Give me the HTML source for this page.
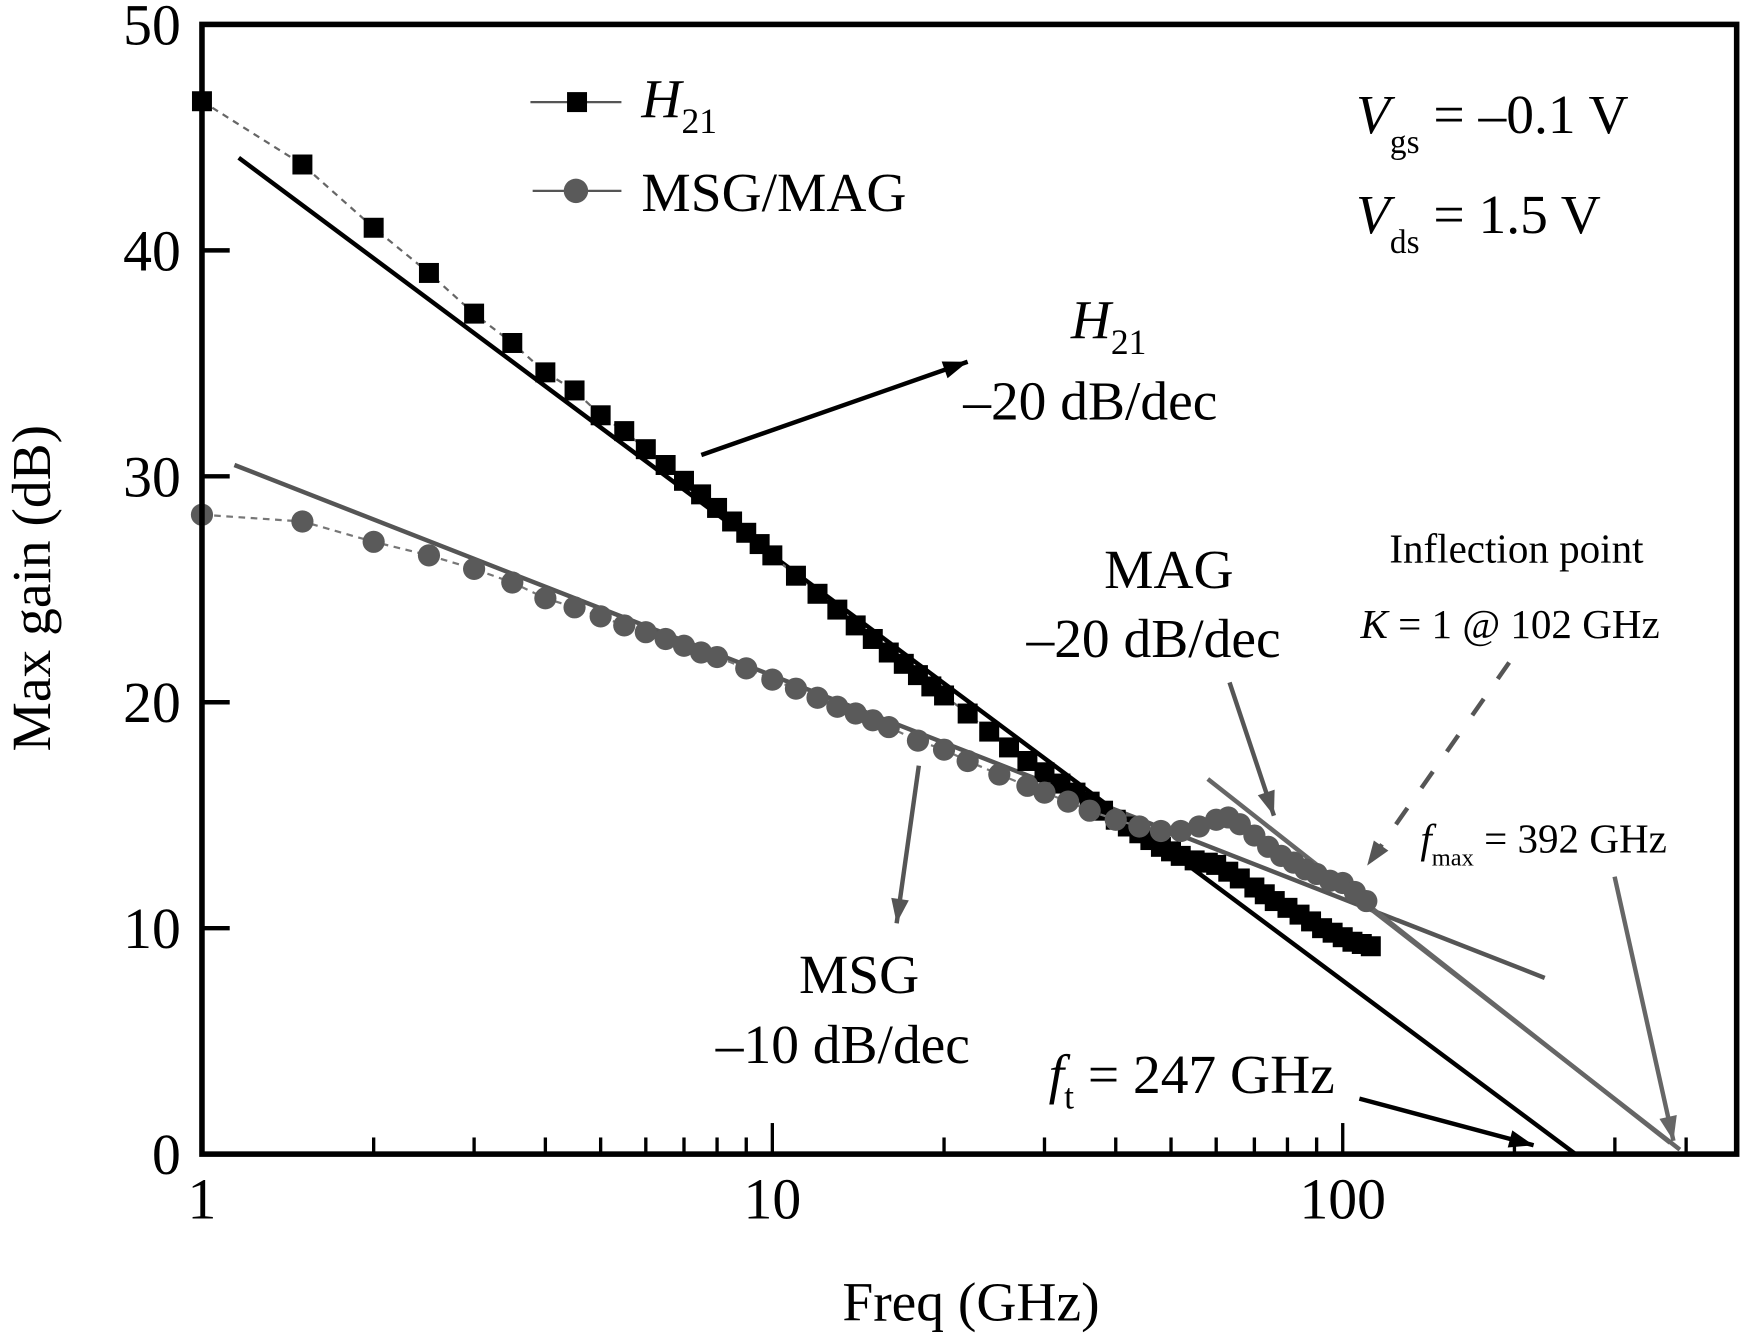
<!DOCTYPE html>
<html><head><meta charset="utf-8"><style>
html,body{margin:0;padding:0;background:#fff;}
svg{display:block;}
text{font-family:"Liberation Serif",serif;fill:#000;}
</style></head><body>
<svg id="chart" width="1740" height="1335" viewBox="0 0 1568 1203" preserveAspectRatio="none" xmlns="http://www.w3.org/2000/svg">
<g id="plot"></g>
<g id="annot">
  <text x="578" y="106" font-size="50" font-style="italic">H<tspan font-size="32" font-style="normal" dy="14">21</tspan></text>
  <text x="578" y="190" font-size="50">MSG/MAG</text>
  <text x="1222" y="120" font-size="50"><tspan font-style="italic">V</tspan><tspan font-size="30" dy="18">gs</tspan><tspan dy="-18"> = –0.1 V</tspan></text>
  <text x="1222" y="210" font-size="50"><tspan font-style="italic">V</tspan><tspan font-size="30" dy="18">ds</tspan><tspan dy="-18"> = 1.5 V</tspan></text>
  <text x="965" y="305" font-size="50" font-style="italic">H<tspan font-size="32" font-style="normal" dy="14">21</tspan></text>
  <text x="868" y="378" font-size="50">–20 dB/dec</text>
  <text x="995" y="530" font-size="50">MAG</text>
  <text x="925" y="592" font-size="50">–20 dB/dec</text>
  <text x="1252" y="507" font-size="37">Inflection point</text>
  <text x="1226" y="575" font-size="37"><tspan font-style="italic">K</tspan> = 1 @ 102 GHz</text>
  <text x="1280" y="768" font-size="37"><tspan font-style="italic">f</tspan><tspan font-size="22" dy="12">max</tspan><tspan dy="-12"> = 392 GHz</tspan></text>
  <text x="720" y="895" font-size="50">MSG</text>
  <text x="645" y="958" font-size="50">–10 dB/dec</text>
  <text x="945" y="985" font-size="50"><tspan font-style="italic">f</tspan><tspan font-size="32" dy="14">t</tspan><tspan dy="-14"> = 247 GHz</tspan></text>
  <text x="875" y="1190" font-size="50" text-anchor="middle">Freq (GHz)</text>
  <text x="0" y="0" font-size="50" text-anchor="middle" transform="translate(45,530) rotate(-90)">Max gain (dB)</text>
</g>
<script>
const h21Freq=[1,1.5,2,2.5,3,3.5,4,4.5,5,5.5,6,6.5,7,7.5,8,8.5,9,9.5,10,11,12,13,14,15,16,17,18,19,20,22,24,26,28,30,32,34,36,38,40,42,44,46,48,50,52,55,58,60,63,66,70,73,76,80,84,88,92,96,100,104,108,112];
const h21Gain=[46.6,43.8,41,39,37.2,35.9,34.6,33.8,32.7,32,31.2,30.5,29.8,29.2,28.6,28,27.5,27,26.5,25.6,24.8,24.1,23.4,22.8,22.2,21.7,21.2,20.7,20.3,19.5,18.7,18,17.4,16.9,16.4,16,15.6,15.2,14.8,14.5,14.2,13.9,13.6,13.4,13.2,13,12.9,12.8,12.5,12.2,11.8,11.5,11.2,10.9,10.6,10.3,10,9.8,9.6,9.4,9.3,9.2];
const magFreq=[1,1.5,2,2.5,3,3.5,4,4.5,5,5.5,6,6.5,7,7.5,8,9,10,11,12,13,14,15,16,18,20,22,25,28,30,33,36,40,44,48,52,56,60,63,66,70,74,78,82,86,90,95,100,105,110];
const magGain=[28.3,28,27.1,26.5,25.9,25.3,24.6,24.2,23.8,23.4,23.1,22.8,22.5,22.2,22,21.5,21,20.6,20.2,19.8,19.5,19.2,18.9,18.3,17.9,17.4,16.8,16.3,16,15.6,15.2,14.8,14.5,14.3,14.3,14.5,14.8,14.9,14.6,14.1,13.6,13.2,12.9,12.6,12.4,12.1,12,11.6,11.2];
const fitLines=[[1.16,44.1,256,0,"#000"],[1.14,30.5,226,7.8,"#555"],[58,16.6,375,0.5,"#666"],[110,11,390,0.2,"#666"]];
const yTicks=[0,10,20,30,40,50];
const xTicks=[1,10,100];
const L=182,R=1565,T=22,B=1040,DEC=514;
const X=f=>L+Math.log10(f)*DEC;
const Y=g=>B-(g/50)*(B-T);
const NS="http://www.w3.org/2000/svg";
const plot=document.getElementById('plot');
function mk(tag,attrs,name){const e=document.createElementNS(NS,tag);for(const k in attrs)e.setAttribute(k,attrs[k]);


plot.appendChild(e);return e;}
// fit lines
fitLines.forEach((l,i)=>{mk('line',{x1:X(l[0]),y1:Y(l[1]),x2:X(l[2]),y2:Y(l[3]),stroke:l[4],'stroke-width':4},'fit-line-'+i);});
// H21 series
mk('polyline',{points:h21Freq.map((f,i)=>X(f)+','+Y(h21Gain[i])).join(' '),fill:'none',stroke:'#666','stroke-width':2,'stroke-dasharray':'6,5'},'h21-line');
h21Freq.forEach((f,i)=>{mk('rect',{x:X(f)-9,y:Y(h21Gain[i])-9,width:18,height:18,fill:'#000'},'h21-point');});
// MAG series
mk('polyline',{points:magFreq.map((f,i)=>X(f)+','+Y(magGain[i])).join(' '),fill:'none',stroke:'#777','stroke-width':2,'stroke-dasharray':'6,5'},'msg-mag-line');
magFreq.forEach((f,i)=>{mk('circle',{cx:X(f),cy:Y(magGain[i]),r:10,fill:'#5a5a5a'},'msg-mag-point');});
// arrows (annotation)
function arrow(x1,y1,x2,y2,c,name,dash){mk('line',{x1,y1,x2,y2,stroke:c,'stroke-width':4,'stroke-dasharray':dash||'none'},name);
const a=Math.atan2(y2-y1,x2-x1),s=22,w=8;
const p=[[x2,y2],[x2-s*Math.cos(a)+w*Math.sin(a),y2-s*Math.sin(a)-w*Math.cos(a)],[x2-s*Math.cos(a)-w*Math.sin(a),y2-s*Math.sin(a)+w*Math.cos(a)]];
mk('polygon',{points:p.map(q=>q.join(',')).join(' '),fill:c},name+'-head');}
arrow(632,410,872,326,'#000','h21-arrow');
arrow(1108,615,1148,735,'#555','mag-arrow');
arrow(1360,597,1232,780,'#555','inflection-arrow','18,22');
arrow(828,690,808,832,'#555','msg-arrow');
arrow(1455,790,1508,1028,'#666','fmax-arrow');
arrow(1225,990,1382,1032,'#000','ft-arrow');
// legend markers
mk('line',{x1:478,y1:92,x2:560,y2:92,stroke:'#555','stroke-width':2},'legend-h21-line');
mk('rect',{x:511,y:83,width:18,height:18,fill:'#000'},'legend-h21-marker');
mk('line',{x1:480,y1:172,x2:560,y2:172,stroke:'#555','stroke-width':2},'legend-msg-line');
mk('circle',{cx:519,cy:172,r:11,fill:'#5a5a5a'},'legend-msg-marker');
// axes box
mk('rect',{x:L,y:T,width:R-L,height:B-T,fill:'none',stroke:'#000','stroke-width':5},'axes-frame');
// y ticks
yTicks.forEach(v=>{mk('line',{x1:L,y1:Y(v),x2:L+25,y2:Y(v),stroke:'#000','stroke-width':4},'y-tick');
const t=mk('text',{x:163,y:Y(v)+18,'font-size':52,'text-anchor':'end'},'y-tick-label');t.textContent=v;});
// x ticks
for(let d=0;d<3;d++){for(let m=1;m<10;m++){const f=Math.pow(10,d)*m;const x=X(f);if(x>R)break;
mk('line',{x1:x,y1:B,x2:x,y2:B-(m===1?28:15),stroke:'#000','stroke-width':3},'x-tick');}}
xTicks.forEach(v=>{const t=mk('text',{x:X(v),y:1098,'font-size':52,'text-anchor':'middle'},'x-tick-label');t.textContent=v;});
</script>
</svg>
</body></html>
